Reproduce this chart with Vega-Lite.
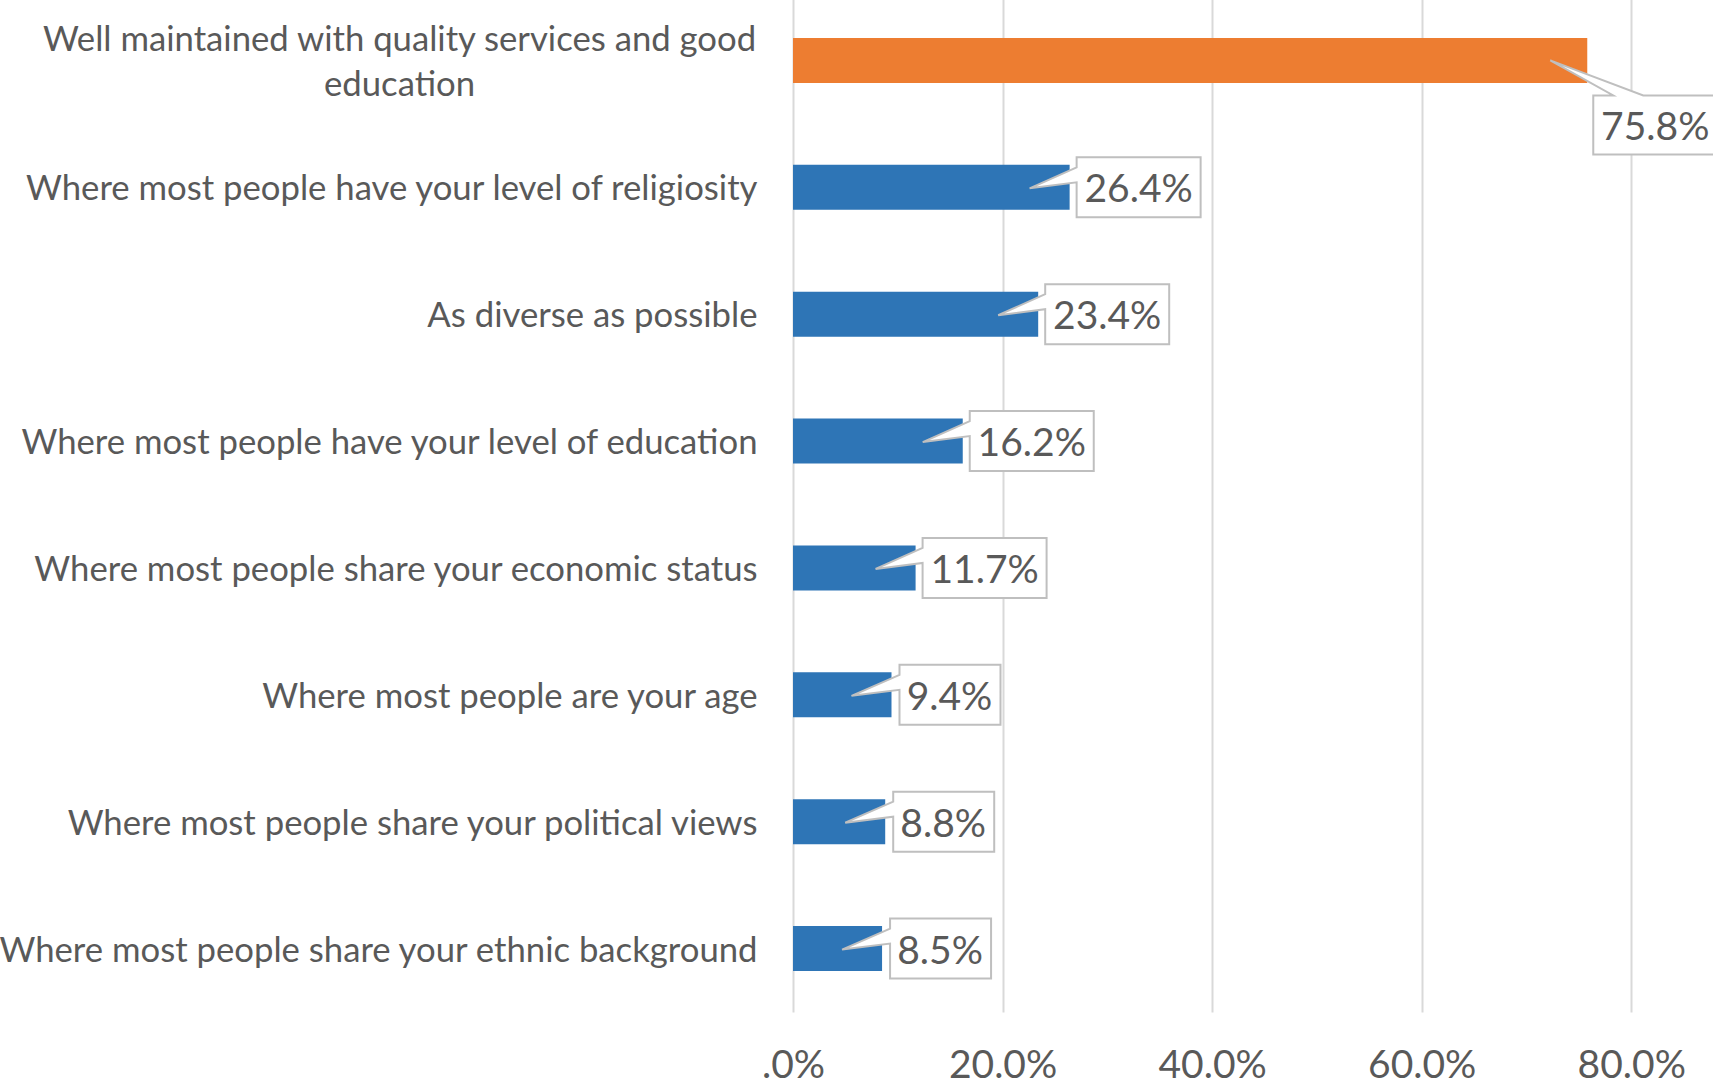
{
  "$schema": "https://vega.github.io/schema/vega-lite/v6.json",
  "autosize": {"type": "none"},
  "width": 920,
  "height": 1015,
  "padding": {"left": 793, "top": -3, "right": 0, "bottom": 72},
  "background": "white",
  "config": {
    "view": {"stroke": null},
    "font": "Lato, sans-serif"
  },
  "data": {
    "values": [
      {"category": "Well maintained with quality services and good education", "value": 0.758, "hl": "yes", "label": "75.8%"},
      {"category": "Where most people have your level of religiosity", "value": 0.264, "hl": "no", "label": "26.4%"},
      {"category": "As diverse as possible", "value": 0.234, "hl": "no", "label": "23.4%"},
      {"category": "Where most people have your level of education", "value": 0.162, "hl": "no", "label": "16.2%"},
      {"category": "Where most people share your economic status", "value": 0.117, "hl": "no", "label": "11.7%"},
      {"category": "Where most people are your age", "value": 0.094, "hl": "no", "label": "9.4%"},
      {"category": "Where most people share your political views", "value": 0.088, "hl": "no", "label": "8.8%"},
      {"category": "Where most people share your ethnic background", "value": 0.085, "hl": "no", "label": "8.5%"}
    ]
  },
  "encoding": {
    "y": {
      "field": "category",
      "type": "nominal",
      "sort": null,
      "scale": {"paddingInner": 0.645, "paddingOuter": 0.3225},
      "axis": {
        "title": null,
        "domain": false,
        "ticks": false,
        "tickSize": 0,
        "grid": false,
        "labelFont": "Lato, sans-serif",
        "labelFontSize": 34.7,
        "labelColor": "#595959",
        "labelLimit": 1000,
        "labelLineHeight": 45,
        "labelBaseline": "middle",
        "labelOverlap": false,
        "labelExpr": "indexof(datum.value, 'Well') == 0 ? ['Well maintained with quality services and good', 'education'] : datum.value",
        "labelAlign": {"condition": {"test": "indexof(datum.value, 'Well') == 0", "value": "center"}, "value": "right"},
        "labelPadding": {"condition": {"test": "indexof(datum.value, 'Well') == 0", "value": 394}, "value": 36},
        "labelOffset": {"condition": {"test": "indexof(datum.value, 'Well') == 0", "value": -19}, "value": 3}
      }
    },
    "x": {
      "field": "value",
      "type": "quantitative",
      "scale": {"domain": [0, 0.878], "nice": false, "zero": true},
      "axis": {
        "title": null,
        "values": [0, 0.2, 0.4, 0.6, 0.8],
        "format": ".1%",
        "labelExpr": "datum.value == 0 ? '.0%' : datum.label",
        "domain": false,
        "ticks": false,
        "tickSize": 0,
        "grid": true,
        "gridColor": "#d9d9d9",
        "gridWidth": 2,
        "labelFont": "Lato, sans-serif",
        "labelFontSize": 39,
        "labelColor": "#595959",
        "labelPadding": 34,
        "labelBaseline": "top",
        "labelFlush": false,
        "labelOverlap": false
      }
    }
  },
  "layer": [
    {
      "mark": {"type": "bar"},
      "encoding": {
        "color": {
          "field": "hl",
          "type": "nominal",
          "scale": {"domain": ["yes", "no"], "range": ["#ED7D31", "#2E75B6"]},
          "legend": null
        }
      }
    },
    {
      "transform": [{"filter": "datum.hl == 'yes'"}],
      "layer": [
        {
          "mark": {"type": "point", "shape": "M6,35 L26,35 L-37,0 L56,35 L130,35 L130,94 L6,94 Z", "size": 4, "filled": true, "fill": "#ffffff", "stroke": "#bfbfbf", "strokeWidth": 2, "opacity": 1, "fillOpacity": 1, "strokeOpacity": 1}
        },
        {
          "mark": {"type": "text", "dx": 68, "dy": 68, "align": "center", "baseline": "middle", "fontSize": 39, "color": "#595959", "font": "Lato, sans-serif"},
          "encoding": {"text": {"field": "label"}}
        }
      ]
    },
    {
      "transform": [{"filter": "datum.hl == 'no' && datum.value >= 0.1"}],
      "layer": [
        {
          "mark": {"type": "point", "shape": "M7,-30 L131,-30 L131,30 L7,30 L7,-5 L-40,1 L7,-20 Z", "size": 4, "filled": true, "fill": "#ffffff", "stroke": "#bfbfbf", "strokeWidth": 2, "opacity": 1, "fillOpacity": 1, "strokeOpacity": 1}
        },
        {
          "mark": {"type": "text", "dx": 69, "dy": 3, "align": "center", "baseline": "middle", "fontSize": 39, "color": "#595959", "font": "Lato, sans-serif"},
          "encoding": {"text": {"field": "label"}}
        }
      ]
    },
    {
      "transform": [{"filter": "datum.hl == 'no' && datum.value < 0.1"}],
      "layer": [
        {
          "mark": {"type": "point", "shape": "M8,-30 L109,-30 L109,30 L8,30 L8,-5 L-40,1 L8,-20 Z", "size": 4, "filled": true, "fill": "#ffffff", "stroke": "#bfbfbf", "strokeWidth": 2, "opacity": 1, "fillOpacity": 1, "strokeOpacity": 1}
        },
        {
          "mark": {"type": "text", "dx": 58, "dy": 3, "align": "center", "baseline": "middle", "fontSize": 39, "color": "#595959", "font": "Lato, sans-serif"},
          "encoding": {"text": {"field": "label"}}
        }
      ]
    }
  ]
}
